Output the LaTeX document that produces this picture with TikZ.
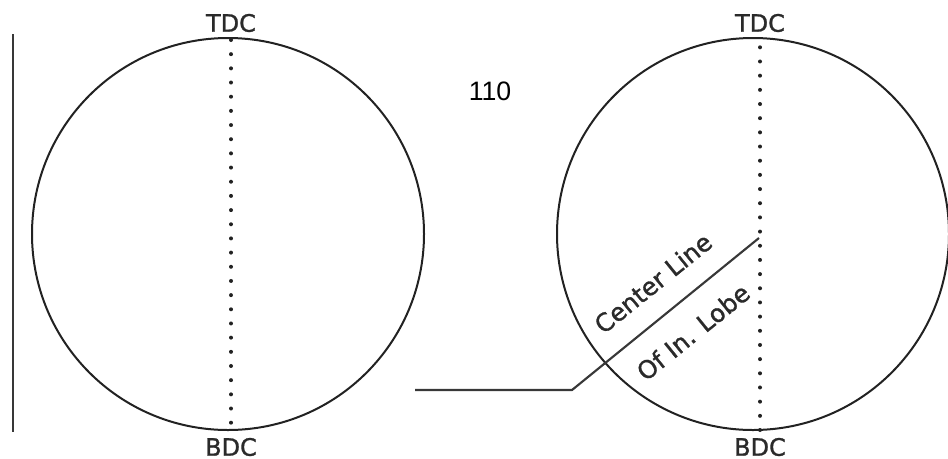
\documentclass[tikz,border=0pt]{standalone}
\usepackage{fontspec}
\setmainfont[FakeBold=1.2]{DejaVu Sans}
\newfontfamily\numfont{Liberation Sans}
\definecolor{ink}{HTML}{222222}
\definecolor{txt}{HTML}{2A2A2A}
\tikzset{
  x=0.75pt,y=-0.75pt,
  dial/.style={circle,draw=ink,line width=1.5pt,minimum size=294pt,inner sep=0pt},
  axisline/.style={draw=ink,line width=3pt,dash pattern=on 0pt off 10.63pt,line cap=round},
  solidline/.style={draw=ink!90,line width=1.6pt},
  deadcenter/.style={font=\fontsize{18pt}{20pt}\selectfont,text=txt,inner sep=0pt},
  lobetext/.style={font=\fontsize{18.5pt}{20pt}\selectfont,text=txt,inner sep=0pt,rotate=39},
}
\begin{document}
\begin{tikzpicture}
\useasboundingbox (0,0) rectangle (948,458);
% left dial
\node[dial] (L) at (228,234) {};
\coordinate (Lt) at (231,40);
\coordinate (Lb) at (231,430);
\draw[axisline] (Lt) -- (Lb);
\node[deadcenter] (LT) at (231,23) {TDC};
\node[deadcenter] (LB) at (231,447) {BDC};
% right dial
\node[dial] (R) at (753,234) {};
\coordinate (Rt) at (760,38);
\coordinate (Rb) at (760,430);
\draw[axisline] (Rb) -- (Rt);
\node[deadcenter] (RT) at (760,23) {TDC};
\node[deadcenter] (RB) at (760,447) {BDC};
% left rule
\coordinate (ra) at (13,34);
\coordinate (rb) at (13,432);
\draw[solidline] (ra) -- (rb);
% number
\node[font=\fontsize{20pt}{22pt}\selectfont\numfont,text=black,inner sep=0pt] (num) at (490,91) {110};
% center line leader
\coordinate (c) at (759,238);
\coordinate (k) at (572,390);
\coordinate (e) at (415,390);
\draw[solidline] (c) -- (k) -- (e);
\node[lobetext] (cl) at (653,283) {Center Line};
\node[lobetext] (ol) at (693,332) {Of In. Lobe};
\end{tikzpicture}
\end{document}
